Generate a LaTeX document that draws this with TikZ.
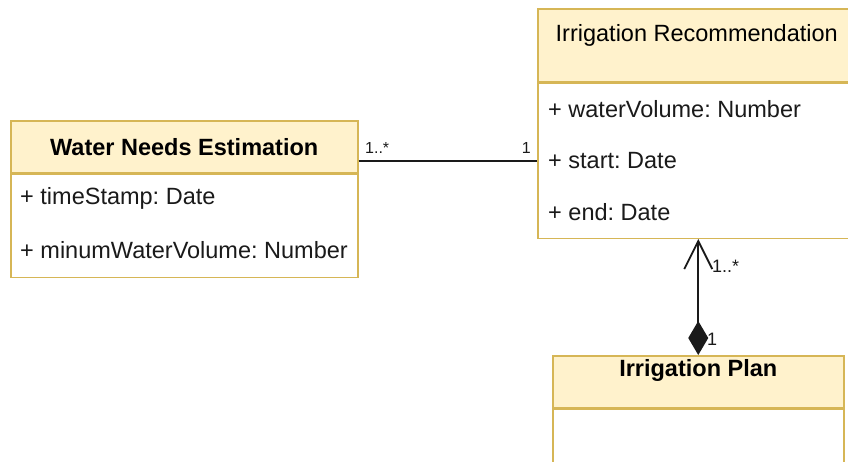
\documentclass[tikz,border=0pt]{standalone}
\usepackage{fontspec}
\setmainfont{Liberation Sans}
\usetikzlibrary{arrows.meta,positioning}
\frenchspacing

\definecolor{clshead}{HTML}{FFF2CC}
\definecolor{clsline}{HTML}{D6B656}
\definecolor{ink}{HTML}{1A1A1A}

\begin{document}
\begin{tikzpicture}[
        x=1pt, y=-1pt,
        font=\fontsize{23.5pt}{28pt}\selectfont,
        head/.style={draw=clsline, fill=clshead, line width=1.5pt, anchor=north west, inner sep=0pt},
        body/.style={draw=clsline, fill=white, line width=1.5pt, inner sep=0pt, below=0pt of #1},
        attr/.style={anchor=west, inner sep=0pt, text=ink},
        mult/.style={inner sep=0pt, text=ink, font=\fontsize{16pt}{18pt}\selectfont},
        assoc/.style={draw=ink, line width=1.8pt}
    ]
        \useasboundingbox (0,0) rectangle (848,461);

        % Water Needs Estimation
        \node[head, minimum width=347pt, minimum height=52pt] (wneH) at (10,120) {\bfseries Water Needs Estimation};
        \node[body=wneH, minimum width=347pt, minimum height=103pt] (wneB) {};
        \node[attr] (wneTime) at (20,198) {+ timeStamp: Date};
        \node[attr] (wneVol) at (20,250) {+ minumWaterVolume: Number};

        % Irrigation Recommendation (runs past the right edge)
        \node[head, minimum width=318pt, minimum height=73pt, text depth=24pt] (irH) at (537,8) {Irrigation Recommendation};
        \node[body=irH, minimum width=318pt, minimum height=155pt] (irB) {};
        \node[attr] (irVol) at (548,109) {+ waterVolume: Number};
        \node[attr] (irStart) at (548,161) {+ start: Date};
        \node[attr] (irEnd) at (548,212) {+ end: Date};

        % Irrigation Plan
        \node[head, minimum width=291pt, minimum height=52pt, text depth=27pt] (planH) at (552,355) {\bfseries Irrigation Plan};
        \node[body=planH, minimum width=291pt, minimum height=70pt] (planB) {};

        % association
        \draw[assoc] (wneH.east |- irStart) -- (irB.west |- irStart);
        \node[mult, anchor=south west] (mWne) at (365,154) {1..*};
        \node[mult, anchor=south east] (mIr) at (531,154) {1};

        % composition
        \draw[assoc, {Straight Barb[length=28pt,width=28pt,line width=1.8pt]}-{Diamond[length=34pt,width=20pt]}]
            (planH.north |- irB.south) -- (planH.north);
        \node[mult, anchor=west, font=\fontsize{18pt}{20pt}\selectfont] (mUp) at (712,266) {1..*};
        \node[mult, anchor=west, font=\fontsize{18pt}{20pt}\selectfont] (mDown) at (707,339) {1};
\end{tikzpicture}
\end{document}
